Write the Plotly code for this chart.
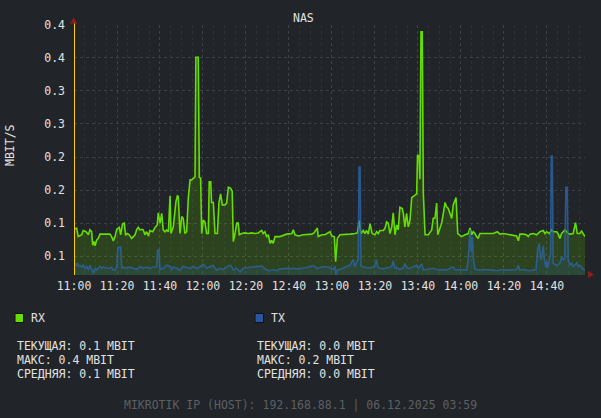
import pandas as pd
import plotly.graph_objects as go

# ---------------- data (minutes after 11:00, Mbit/s) ----------------
BASE = pd.Timestamp("2025-12-06 11:00:00")
END_MIN = 237.7

rx_min = [0, 1.2, 2.0, 3.6, 4.3, 5.6, 6.7, 7.4, 8.2, 8.7, 9.3, 9.8, 10.5, 11.3, 12.1, 16.7, 17.5, 18.3,
          19.1, 19.9, 21.1, 21.7, 22.6, 23.4, 24.0, 24.8, 25.7, 26.8, 27.6, 28.4, 29.2, 29.9, 30.7, 31.5,
          32.2, 33.0, 33.8, 34.6, 35.3, 36.6, 37.7, 38.7, 39.2, 40.0, 40.8, 41.5, 42.3, 43.1, 43.9, 44.7,
          45.1, 46.2, 47.4, 48.1, 48.5, 49.0, 49.3, 50.1, 50.8, 51.6, 52.4, 53.2, 54.0, 54.7, 55.5, 56.3,
          56.7, 57.8, 58.3, 58.9, 59.4, 60.1, 60.9, 61.7, 62.5, 62.9, 63.6, 64.0, 64.8, 65.6, 66.7, 67.4,
          68.2, 69.0, 70.2, 71.0, 71.8, 72.9, 73.6, 74.1, 74.9, 75.7, 76.4, 76.9, 78.0, 79.5, 81.1, 82.6,
          84.2, 85.7, 86.5, 87.3, 88.0, 88.8, 89.6, 90.4, 91.2, 91.9, 92.7, 93.5, 95.8, 98.9, 101.3, 102.0,
          102.8, 104.3, 106.7, 109.0, 110.6, 111.6, 112.6, 113.2, 113.6, 115.2, 116.7, 118.3, 119.1, 119.9,
          121.1, 121.7, 122.5, 123.7, 125.3, 128.4, 130.7, 131.8, 132.7, 133.5, 134.6, 135.3, 136.1, 136.9,
          137.7, 138.1, 138.7, 140.0, 140.8, 141.5, 142.3, 143.9, 144.7, 145.4, 146.2, 147.0, 147.8, 148.5,
          149.3, 150.1, 150.8, 151.6, 152.7, 153.2, 153.9, 154.7, 155.5, 156.3, 157.1, 158.6, 159.4, 159.8,
          160.5, 160.9, 161.4, 162.0, 162.5, 163.3, 164.8, 166.4, 167.1, 167.9, 168.7, 169.2, 170.2, 171.0,
          171.8, 172.6, 173.3, 174.1, 174.9, 175.7, 176.4, 177.7, 178.5, 179.5, 180.3, 181.9, 183.4, 184.2,
          185.0, 185.7, 186.5, 187.3, 188.0, 188.8, 190.4, 192.0, 193.5, 195.0, 196.9, 198.1, 199.7, 201.3,
          202.8, 204.3, 205.9, 206.7, 207.4, 209.0, 210.5, 211.3, 212.1, 213.6, 215.2, 216.7, 218.3, 219.1,
          219.9, 221.1, 222.2, 222.9, 224.5, 225.3, 226.0, 226.8, 228.4, 229.9, 230.7, 232.2, 233.3, 234.1,
          235.3, 236.1, 236.9, 237.7]
rx_mbit = [0.075, 0.077, 0.063, 0.066, 0.073, 0.071, 0.066, 0.074, 0.071, 0.049, 0.055, 0.048, 0.057, 0.060,
           0.067, 0.067, 0.063, 0.056, 0.063, 0.075, 0.078, 0.066, 0.084, 0.085, 0.066, 0.068, 0.066, 0.060,
           0.063, 0.066, 0.075, 0.078, 0.074, 0.075, 0.074, 0.066, 0.071, 0.064, 0.073, 0.071, 0.078, 0.082,
           0.102, 0.085, 0.101, 0.074, 0.071, 0.074, 0.071, 0.130, 0.068, 0.079, 0.120, 0.130, 0.129, 0.096,
           0.068, 0.096, 0.093, 0.068, 0.071, 0.128, 0.156, 0.156, 0.159, 0.161, 0.357, 0.357, 0.160, 0.159,
           0.068, 0.090, 0.087, 0.068, 0.068, 0.153, 0.153, 0.119, 0.119, 0.068, 0.068, 0.118, 0.133, 0.115,
           0.115, 0.118, 0.144, 0.142, 0.137, 0.055, 0.068, 0.085, 0.085, 0.066, 0.068, 0.069, 0.068, 0.069,
           0.068, 0.069, 0.071, 0.073, 0.068, 0.071, 0.063, 0.066, 0.052, 0.057, 0.052, 0.063, 0.063, 0.067,
           0.068, 0.074, 0.066, 0.064, 0.066, 0.066, 0.067, 0.069, 0.075, 0.077, 0.063, 0.066, 0.066, 0.069,
           0.071, 0.064, 0.063, 0.022, 0.060, 0.066, 0.066, 0.067, 0.068, 0.069, 0.089, 0.068, 0.073, 0.068,
           0.073, 0.067, 0.084, 0.079, 0.068, 0.066, 0.071, 0.068, 0.073, 0.073, 0.077, 0.087, 0.085, 0.068,
           0.079, 0.102, 0.066, 0.082, 0.074, 0.111, 0.109, 0.101, 0.079, 0.101, 0.079, 0.090, 0.127, 0.131,
           0.133, 0.197, 0.194, 0.157, 0.399, 0.399, 0.134, 0.066, 0.066, 0.074, 0.093, 0.093, 0.118, 0.066,
           0.079, 0.085, 0.101, 0.119, 0.112, 0.109, 0.101, 0.093, 0.115, 0.127, 0.068, 0.066, 0.063, 0.066,
           0.068, 0.077, 0.066, 0.071, 0.068, 0.063, 0.060, 0.068, 0.068, 0.068, 0.067, 0.068, 0.071, 0.067,
           0.068, 0.067, 0.067, 0.066, 0.064, 0.056, 0.067, 0.067, 0.066, 0.063, 0.067, 0.068, 0.066, 0.071,
           0.073, 0.068, 0.071, 0.068, 0.074, 0.071, 0.071, 0.067, 0.060, 0.068, 0.074, 0.068, 0.067, 0.068,
           0.086, 0.068, 0.068, 0.072, 0.068, 0.063]

tx_min = [0, 0.9, 1.5, 2.0, 2.8, 3.6, 4.3, 5.1, 5.9, 6.7, 7.4, 8.2, 9.0, 9.8, 10.5, 11.3, 12.1, 12.9, 13.6,
          15.2, 16.7, 17.5, 18.3, 19.1, 19.9, 20.3, 20.9, 21.7, 22.2, 22.9, 24.5, 26.0, 27.6, 29.2, 30.7,
          32.2, 33.8, 35.3, 36.9, 38.5, 38.9, 39.5, 40.0, 41.5, 43.1, 43.9, 44.7, 45.4, 46.2, 47.8, 49.3,
          50.8, 52.4, 54.0, 55.5, 57.1, 58.6, 60.1, 60.9, 61.7, 63.3, 64.8, 65.6, 66.4, 67.9, 69.4, 71.0,
          72.6, 73.3, 74.1, 75.7, 77.2, 78.0, 78.7, 80.3, 81.9, 83.4, 85.0, 86.5, 87.3, 88.0, 89.6, 91.2,
          92.7, 94.3, 95.8, 97.3, 98.9, 100.5, 102.0, 103.6, 105.1, 106.7, 108.2, 109.8, 111.3, 112.1, 112.9,
          114.4, 116.0, 117.5, 118.3, 119.1, 120.6, 121.4, 121.9, 122.5, 123.7, 125.3, 126.8, 128.4, 129.2,
          129.9, 130.7, 131.5, 132.2, 132.6, 133.1, 133.5, 134.6, 136.1, 137.7, 139.2, 140.0, 140.8, 141.2,
          142.3, 143.9, 145.4, 147.0, 147.8, 148.5, 149.3, 150.1, 151.6, 153.2, 153.9, 154.7, 156.3, 157.8,
          159.4, 160.2, 160.9, 161.7, 162.5, 164.0, 165.6, 167.1, 168.7, 170.2, 171.8, 173.3, 174.9, 176.4,
          177.2, 178.0, 179.5, 181.0, 182.6, 183.4, 184.2, 184.7, 185.3, 185.8, 186.5, 187.3, 188.8, 190.4,
          192.0, 193.5, 195.0, 196.6, 198.1, 199.7, 201.3, 202.8, 204.3, 205.9, 206.7, 207.4, 209.0, 210.5,
          212.1, 213.6, 214.9, 215.7, 216.4, 217.1, 217.7, 218.3, 218.8, 219.4, 219.9, 220.3, 221.1, 221.7,
          222.0, 222.5, 222.9, 224.5, 226.0, 226.8, 227.6, 228.3, 228.8, 229.4, 229.9, 230.7, 231.5, 232.2,
          233.0, 233.8, 234.6, 235.3, 236.1, 236.9, 237.7]
tx_mbit = [0.019, 0.016, 0.020, 0.014, 0.016, 0.013, 0.016, 0.011, 0.014, 0.008, 0.016, 0.008, 0.003, 0.011,
           0.008, 0.011, 0.014, 0.011, 0.013, 0.011, 0.011, 0.013, 0.008, 0.008, 0.014, 0.041, 0.046, 0.046,
           0.011, 0.013, 0.011, 0.013, 0.011, 0.009, 0.014, 0.011, 0.013, 0.011, 0.013, 0.013, 0.041, 0.042,
           0.009, 0.011, 0.016, 0.015, 0.014, 0.009, 0.013, 0.011, 0.008, 0.014, 0.013, 0.011, 0.014, 0.011,
           0.013, 0.018, 0.015, 0.011, 0.014, 0.016, 0.011, 0.008, 0.011, 0.009, 0.013, 0.016, 0.014, 0.008,
           0.011, 0.005, 0.008, 0.011, 0.012, 0.013, 0.013, 0.014, 0.014, 0.015, 0.013, 0.008, 0.007, 0.009,
           0.007, 0.010, 0.010, 0.011, 0.010, 0.011, 0.010, 0.010, 0.012, 0.012, 0.014, 0.015, 0.014, 0.011,
           0.012, 0.014, 0.013, 0.013, 0.011, 0.009, 0.014, 0.000, 0.008, 0.009, 0.011, 0.014, 0.016, 0.022,
           0.025, 0.014, 0.023, 0.027, 0.177, 0.177, 0.014, 0.013, 0.012, 0.012, 0.013, 0.016, 0.025, 0.014,
           0.011, 0.010, 0.011, 0.013, 0.014, 0.023, 0.011, 0.012, 0.009, 0.012, 0.019, 0.011, 0.011, 0.014,
           0.016, 0.011, 0.014, 0.018, 0.008, 0.009, 0.011, 0.011, 0.009, 0.008, 0.009, 0.008, 0.011, 0.013,
           0.009, 0.008, 0.009, 0.009, 0.008, 0.025, 0.074, 0.038, 0.063, 0.027, 0.009, 0.009, 0.008, 0.009,
           0.009, 0.008, 0.008, 0.007, 0.008, 0.009, 0.008, 0.008, 0.008, 0.009, 0.016, 0.008, 0.009, 0.008,
           0.007, 0.008, 0.009, 0.041, 0.052, 0.025, 0.033, 0.048, 0.025, 0.014, 0.022, 0.011, 0.026, 0.036,
           0.195, 0.195, 0.019, 0.016, 0.019, 0.029, 0.025, 0.028, 0.144, 0.144, 0.025, 0.016, 0.020, 0.014,
           0.016, 0.020, 0.014, 0.016, 0.013, 0.009, 0.008]

y_tick_vals = [0.031, 0.085, 0.139, 0.193, 0.248, 0.302, 0.356, 0.410]
y_tick_text = ["0.1", "0.1", "0.2", "0.2", "0.3", "0.3", "0.4", "0.4"]

series_names = ["RX", "TX"]
title_text = "NAS"
y_title = "MBIT/S"
stat_labels = ["ТЕКУЩАЯ", "МАКС", "СРЕДНЯЯ"]
footer_text = "MIKROTIK IP (HOST): 192.168.88.1 | 06.12.2025 03:59"

# ---------------- style ----------------
BG = "#212428"
GRID = "#3d4147"
GRID_MINOR = "#2d3035"
TXT = "#e2e2e2"
FOOT = "#5c6066"
RX_LINE = "#66dd00"
RX_FILL = "rgba(102,210,0,0.18)"
RX_BOX = "#66dd00"
TX_LINE = "rgba(44,100,165,0.80)"
TX_FILL = "rgba(44,98,172,0.16)"
TX_BOX = "#2a55a3"
AXIS_Y = "#ffcc00"
ARROW = "#8e1d1d"
FONT = "DejaVu Sans Mono"
FS = 11.5

# plot area in pixels
L, R, T, B = 74, 585, 25, 275


def px(x):
    return (x - L) / (R - L)


def py(y):
    return (B - y) / (B - T)


def to_time(mins):
    return BASE + pd.to_timedelta(mins, unit="min")


rx_t = to_time(pd.Series(rx_min))
tx_t = to_time(pd.Series(tx_min))

fig = go.Figure()
fig.add_trace(go.Scatter(x=rx_t, y=rx_mbit, mode="lines", name=series_names[0],
                         line=dict(color=RX_LINE, width=1.6), fill="tozeroy", fillcolor=RX_FILL,
                         showlegend=False, hoverinfo="skip"))
fig.add_trace(go.Scatter(x=tx_t, y=tx_mbit, mode="lines", name=series_names[1],
                         line=dict(color=TX_LINE, width=1.6), fill="tozeroy", fillcolor=TX_FILL,
                         showlegend=False, hoverinfo="skip"))

fig.update_layout(
    width=601, height=418,
    margin=dict(l=L, r=601 - R, t=T, b=418 - B, pad=0),
    paper_bgcolor=BG, plot_bgcolor=BG,
    font=dict(family=FONT, size=FS, color=TXT),
    showlegend=False,
)
fig.update_xaxes(
    type="date", range=[BASE, to_time(END_MIN)],
    tick0=BASE, dtick=20 * 60 * 1000, tickformat="%H:%M",
    showgrid=True, gridcolor=GRID, griddash="dot", gridwidth=1,
    minor=dict(dtick=5 * 60 * 1000, showgrid=True, gridcolor=GRID_MINOR, griddash="dot", gridwidth=1),
    zeroline=False, showline=False, ticks="", ticklabelstandoff=2,
    tickfont=dict(family=FONT, size=FS, color=TXT),
)
fig.update_yaxes(
    range=[0, 0.41], tickvals=y_tick_vals, ticktext=y_tick_text,
    showgrid=True, gridcolor=GRID, griddash="dot", gridwidth=1,
    zeroline=False, showline=False, ticks="", ticklabelstandoff=8,
    tickfont=dict(family=FONT, size=FS, color=TXT),
)

shapes = [
    dict(type="line", xref="paper", yref="paper", x0=px(74.5), x1=px(74.5), y0=0, y1=py(22),
         line=dict(color=AXIS_Y, width=1)),
    dict(type="path", xref="paper", yref="paper", fillcolor=ARROW, line=dict(width=0),
         path=f"M {px(73.7)},{py(17.5)} L {px(70)},{py(23.5)} L {px(77.4)},{py(23.5)} Z"),
    dict(type="path", xref="paper", yref="paper", fillcolor=ARROW, line=dict(width=0),
         path=f"M {px(594)},{py(274.5)} L {px(588)},{py(271)} L {px(588)},{py(278)} Z"),
    dict(type="rect", xref="paper", yref="paper", x0=px(15), x1=px(23.5), y0=py(322.5), y1=py(313.5),
         fillcolor=RX_BOX, line=dict(color="#111", width=1)),
    dict(type="rect", xref="paper", yref="paper", x0=px(255), x1=px(263.5), y0=py(322.5), y1=py(313.5),
         fillcolor=TX_BOX, line=dict(color="#111", width=1)),
]


def fmt(v):
    return f"{v:.1f}"


rx_stats = [rx_mbit[-1], max(rx_mbit), sum(rx_mbit) / len(rx_mbit)]
tx_stats = [tx_mbit[-1], max(tx_mbit), sum(tx_mbit) / len(tx_mbit)]

ann = [
    dict(text=title_text, x=px(303), y=py(18), xanchor="center", yanchor="middle"),
    dict(text=y_title, x=px(10), y=py(145), textangle=-90, xanchor="center", yanchor="middle"),
    dict(text=series_names[0], x=px(28.5), y=py(318), xanchor="left", yanchor="middle"),
    dict(text=series_names[1], x=px(268.5), y=py(318), xanchor="left", yanchor="middle"),
    dict(text=footer_text, x=px(300.5), y=py(405), xanchor="center", yanchor="middle",
         font=dict(family=FONT, size=FS, color=FOOT)),
]
for i, (lab, yy) in enumerate(zip(stat_labels, [346, 360, 373.5])):
    ann.append(dict(text=f"{lab}: {fmt(rx_stats[i])} MBIT", x=px(14.5), y=py(yy),
                    xanchor="left", yanchor="middle"))
    ann.append(dict(text=f"{lab}: {fmt(tx_stats[i])} MBIT", x=px(254.5), y=py(yy),
                    xanchor="left", yanchor="middle"))
for a in ann:
    a.update(xref="paper", yref="paper", showarrow=False)
    a.setdefault("font", dict(family=FONT, size=FS, color=TXT))

fig.update_layout(shapes=shapes, annotations=ann)
fig.write_html(
    "out.html",
    config={"displayModeBar": False, "staticPlot": True},
    post_script="document.body.style.margin='0';document.body.style.background='" + BG + "';",
)
